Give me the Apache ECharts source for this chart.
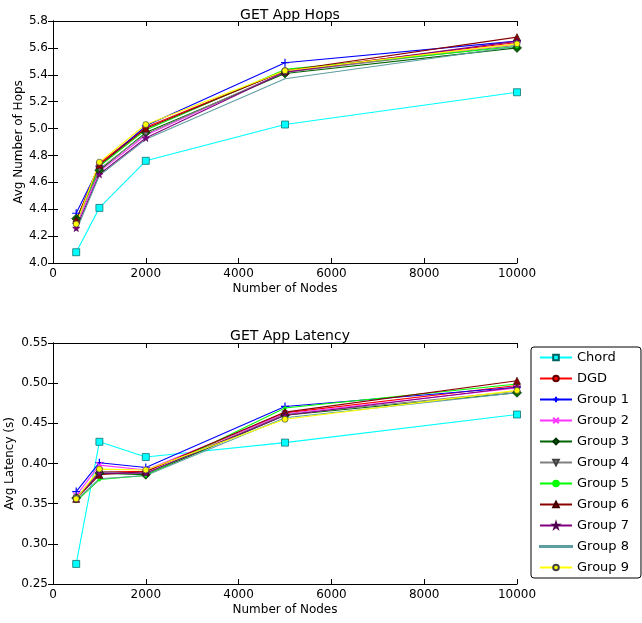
<!DOCTYPE html>
<html><head><meta charset="utf-8">
<script src="https://cdn.jsdelivr.net/npm/echarts@6/dist/echarts.min.js"></script>
<style>html,body{margin:0;padding:0;background:#fff}#c{width:642px;height:623px}</style>
</head><body><div id="c"></div>
<script>
const nodes = [500, 1000, 2000, 5000, 10000];
const seriesNames = ['Chord','DGD','Group 1','Group 2','Group 3','Group 4','Group 5','Group 6','Group 7','Group 8','Group 9'];
const hops = {
  'Chord':   [4.08, 4.41, 4.76, 5.03, 5.27],
  'DGD':     [4.31, 4.74, 5.01, 5.43, 5.64],
  'Group 1': [4.37, 4.72, 5.02, 5.49, 5.65],
  'Group 2': [4.28, 4.68, 4.95, 5.42, 5.63],
  'Group 3': [4.33, 4.69, 4.97, 5.41, 5.60],
  'Group 4': [4.30, 4.70, 4.96, 5.42, 5.62],
  'Group 5': [4.31, 4.72, 4.99, 5.44, 5.61],
  'Group 6': [4.32, 4.73, 5.00, 5.43, 5.68],
  'Group 7': [4.26, 4.66, 4.93, 5.42, 5.65],
  'Group 8': [4.24, 4.65, 4.92, 5.37, 5.61],
  'Group 9': [4.29, 4.75, 5.03, 5.43, 5.63]
};
const latency = {
  'Chord':   [0.275, 0.427, 0.408, 0.426, 0.461],
  'DGD':     [0.357, 0.390, 0.390, 0.463, 0.497],
  'Group 1': [0.365, 0.401, 0.395, 0.471, 0.495],
  'Group 2': [0.360, 0.398, 0.392, 0.462, 0.494],
  'Group 3': [0.357, 0.388, 0.386, 0.460, 0.488],
  'Group 4': [0.357, 0.390, 0.388, 0.461, 0.490],
  'Group 5': [0.353, 0.380, 0.385, 0.469, 0.499],
  'Group 6': [0.356, 0.386, 0.390, 0.464, 0.503],
  'Group 7': [0.356, 0.388, 0.388, 0.460, 0.495],
  'Group 8': [0.354, 0.381, 0.385, 0.457, 0.488],
  'Group 9': [0.356, 0.393, 0.392, 0.455, 0.491]
};

const styles = {
  'Chord':   {color:'#00ffff', symbol:'rect', size:7, fill:'#00ffff', edge:'#006060'},
  'DGD':     {color:'#ff0000', symbol:'circle', size:6, fill:'#ff0000', edge:'#600000'},
  'Group 1': {color:'#0000ff', symbol:'path://M4,0V8M0,4H8', size:8, fill:'none', edge:'#0000ff', stroke:true},
  'Group 2': {color:'#ff33ff', symbol:'path://M0,0L8,8M0,8L8,0', size:6, fill:'none', edge:'#ff33ff', stroke:true},
  'Group 3': {color:'#006400', symbol:'diamond', size:9, fill:'#006400', edge:'#003000'},
  'Group 4': {color:'#808080', symbol:'path://M0,0L8,0L4,8Z', size:6, fill:'#808080', edge:'#404040'},
  'Group 5': {color:'#00ff00', symbol:'circle', size:3, fill:'#00ff00', edge:'#00ff00'},
  'Group 6': {color:'#8b0000', symbol:'triangle', size:7, fill:'#8b0000', edge:'#400000'},
  'Group 7': {color:'#800080', symbol:'path://M50,0L61,35L98,35L68,57L79,91L50,70L21,91L32,57L2,35L39,35Z', size:7, fill:'#800080', edge:'#500050'},
  'Group 8': {color:'#5f9ea0', symbol:'none', size:0, fill:'#5f9ea0', edge:'#5f9ea0'},
  'Group 9': {color:'#ffff00', symbol:'circle', size:6, fill:'#ffff00', edge:'#444'}
};

const font = 'DejaVu Sans';
function makeSeries(data, gi) {
  return seriesNames.map(n => {
    const s = styles[n];
    return {
      name: n, type: 'line', xAxisIndex: gi, yAxisIndex: gi,
      data: nodes.map((x, i) => [x, data[n][i]]),
      symbol: s.symbol, symbolSize: s.size, showSymbol: s.symbol !== 'none',
      lineStyle: {color: s.color, width: 1.1},
      itemStyle: {color: s.fill, borderColor: s.edge, borderWidth: s.stroke ? 1.2 : 0.7},
      emphasis: {disabled: true}, animation: false
    };
  });
}

function xAx(gi, show) {
  return {
    type: 'value', gridIndex: gi, min: 0, max: 10000, interval: 2000,
    position: show ? 'bottom' : 'top',
    name: show ? 'Number of Nodes' : '', nameLocation: 'middle', nameGap: 20,
    nameTextStyle: {fontFamily: font, fontSize: 12, color: '#000'},
    axisLine: {show: true, lineStyle: {color: '#000', width: 1}},
    axisTick: {show: true, inside: true, length: 5, lineStyle: {color: '#000'}},
    axisLabel: {show: show, fontFamily: font, fontSize: 12, color: '#000', margin: 5,
      formatter: v => String(v)},
    splitLine: {show: false}
  };
}
function yAx(gi, min, max, interval, name, show, digits, gap) {
  return {
    type: 'value', gridIndex: gi, min: min, max: max, interval: interval,
    position: show ? 'left' : 'right',
    name: show ? name : '', nameLocation: 'middle', nameGap: gap, nameRotate: 90,
    nameMoveOverlap: false,
    nameTextStyle: {fontFamily: font, fontSize: 12, color: '#000'},
    axisLine: {show: true, lineStyle: {color: '#000', width: 1}},
    axisTick: {show: true, inside: true, length: 5, lineStyle: {color: '#000'}},
    axisLabel: {show: show, fontFamily: font, fontSize: 12, color: '#000', margin: 5,
      formatter: v => v.toFixed(digits)},
    splitLine: {show: false}
  };
}

const legendData = seriesNames.map(n => n === 'Group 8'
  ? {name: n, icon: 'path://M0,0M0,3H32V4H0ZM32,7'}
  : {name: n});

const chart = echarts.init(document.getElementById('c'), null, {renderer: 'canvas'});
chart.setOption({
  backgroundColor: '#fff',
  animation: false,
  title: [
    {text: 'GET App Hops', left: 285, top: 3, textAlign: 'center',
     textStyle: {fontFamily: font, fontSize: 14, fontWeight: 'normal', color: '#000'}},
    {text: 'GET App Latency', left: 285, top: 324, textAlign: 'center',
     textStyle: {fontFamily: font, fontSize: 14, fontWeight: 'normal', color: '#000'}}
  ],
  grid: [
    {left: 53, top: 21, width: 464, height: 242, show: false, containLabel: false, outerBoundsMode: 'none'},
    {left: 53, top: 343, width: 464, height: 241, show: false, containLabel: false, outerBoundsMode: 'none'}
  ],
  xAxis: [xAx(0, true), xAx(1, true), xAx(0, false), xAx(1, false)],
  yAxis: [
    yAx(0, 4.0, 5.8, 0.2, 'Avg Number of Hops', true, 1, 28),
    yAx(1, 0.25, 0.55, 0.05, 'Avg Latency (s)', true, 2, 37),
    yAx(0, 4.0, 5.8, 0.2, '', false, 1, 0),
    yAx(1, 0.25, 0.55, 0.05, '', false, 2, 0)
  ],
  legend: {
    data: legendData, orient: 'vertical', left: 531, top: 347,
    itemWidth: 32, itemHeight: 7, itemGap: 8,
    padding: [4, 12, 4, 8], borderColor: '#000', borderWidth: 1, borderRadius: 3,
    textStyle: {fontFamily: font, fontSize: 13, color: '#000'},
    selectedMode: false
  },
  series: [...makeSeries(hops, 0), ...makeSeries(latency, 1)]
});
</script></body></html>
